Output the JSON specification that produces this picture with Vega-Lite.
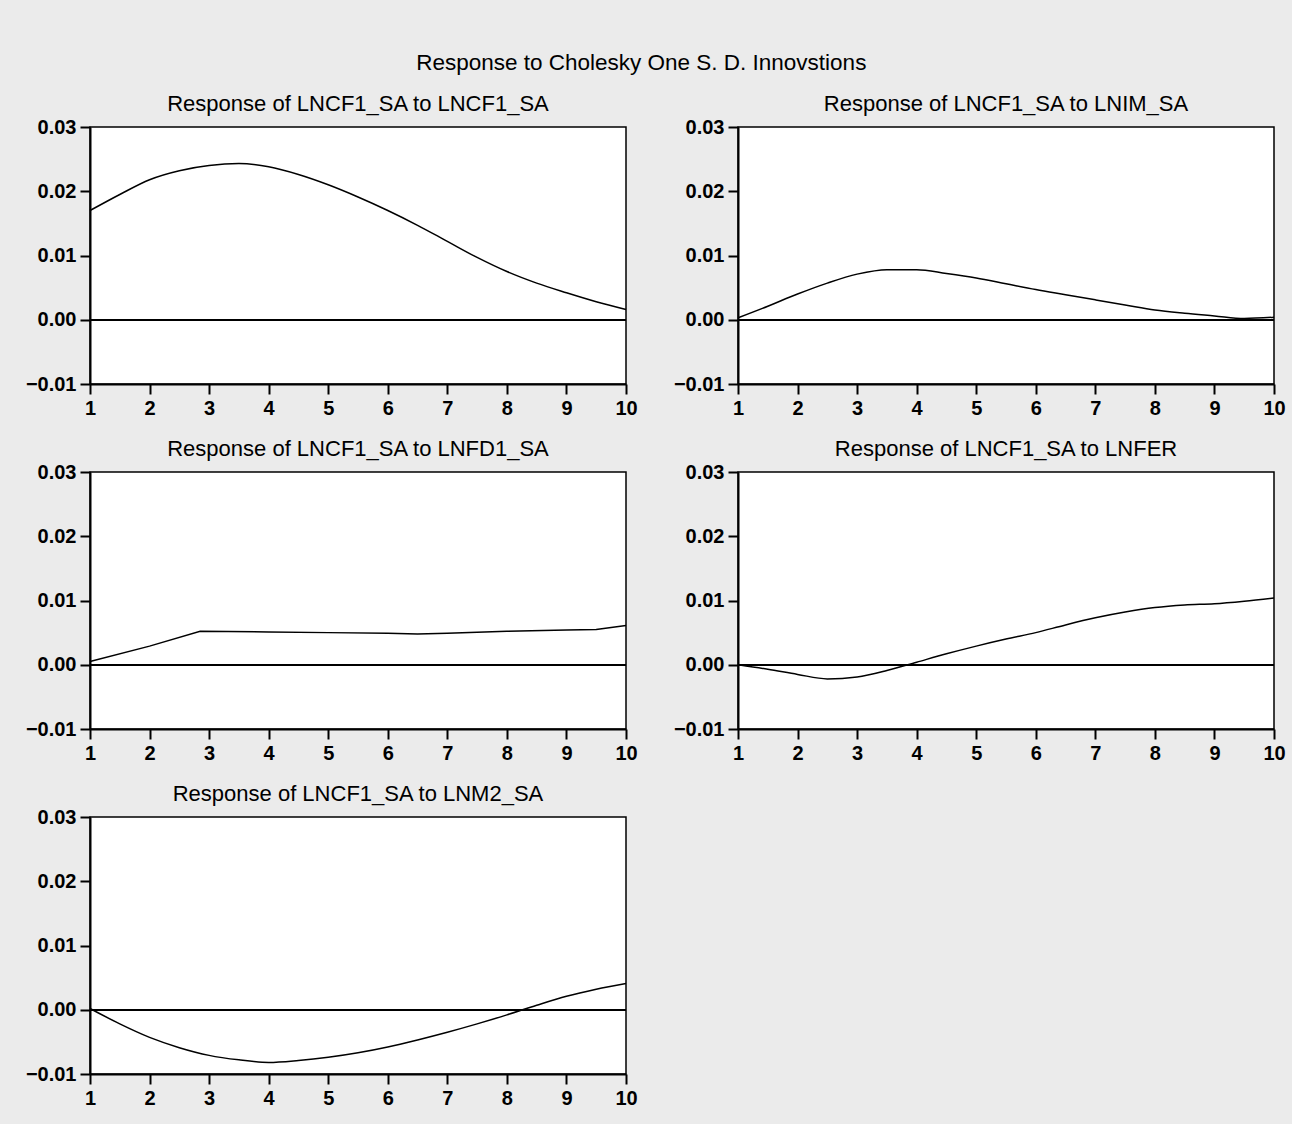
{
  "$schema": "https://vega.github.io/schema/vega-lite/v6.json",
  "background": "#ebebeb",
  "padding": {"left": 24, "top": 51, "right": 10, "bottom": 18},
  "title": {"text": "Response to Cholesky One S. D. Innovstions", "fontSize": 22.5, "font": "Liberation Sans", "fontWeight": "normal", "color": "black", "anchor": "middle", "offset": 18, "dx": -14, "dy": 0},
  "data": {"values": [
    {"panel": "A", "period": 1, "value": 0.0170},
    {"panel": "A", "period": 1.5, "value": 0.0195},
    {"panel": "A", "period": 2, "value": 0.0218},
    {"panel": "A", "period": 2.5, "value": 0.0232},
    {"panel": "A", "period": 3, "value": 0.0240},
    {"panel": "A", "period": 3.5, "value": 0.0243},
    {"panel": "A", "period": 4, "value": 0.0238},
    {"panel": "A", "period": 4.5, "value": 0.0226},
    {"panel": "A", "period": 5, "value": 0.0210},
    {"panel": "A", "period": 5.5, "value": 0.0191},
    {"panel": "A", "period": 6, "value": 0.0170},
    {"panel": "A", "period": 6.5, "value": 0.0147},
    {"panel": "A", "period": 7, "value": 0.0122},
    {"panel": "A", "period": 7.5, "value": 0.0097},
    {"panel": "A", "period": 8, "value": 0.0075},
    {"panel": "A", "period": 8.5, "value": 0.0057},
    {"panel": "A", "period": 9, "value": 0.0042},
    {"panel": "A", "period": 9.5, "value": 0.0028},
    {"panel": "A", "period": 10, "value": 0.0016},
    {"panel": "B", "period": 1, "value": 0.0003},
    {"panel": "B", "period": 1.5, "value": 0.0021},
    {"panel": "B", "period": 2, "value": 0.0040},
    {"panel": "B", "period": 2.5, "value": 0.0057},
    {"panel": "B", "period": 3, "value": 0.0071},
    {"panel": "B", "period": 3.5, "value": 0.0078},
    {"panel": "B", "period": 4, "value": 0.0078},
    {"panel": "B", "period": 4.5, "value": 0.0072},
    {"panel": "B", "period": 5, "value": 0.0065},
    {"panel": "B", "period": 5.5, "value": 0.0056},
    {"panel": "B", "period": 6, "value": 0.0047},
    {"panel": "B", "period": 6.5, "value": 0.0039},
    {"panel": "B", "period": 7, "value": 0.0031},
    {"panel": "B", "period": 7.5, "value": 0.0023},
    {"panel": "B", "period": 8, "value": 0.0015},
    {"panel": "B", "period": 8.5, "value": 0.0010},
    {"panel": "B", "period": 9, "value": 0.0006},
    {"panel": "B", "period": 9.5, "value": 0.0002},
    {"panel": "B", "period": 10, "value": 0.0004},
    {"panel": "C", "period": 1, "value": 0.0005},
    {"panel": "C", "period": 2, "value": 0.0029},
    {"panel": "C", "period": 2.85, "value": 0.0052},
    {"panel": "C", "period": 4, "value": 0.0051},
    {"panel": "C", "period": 5, "value": 0.0050},
    {"panel": "C", "period": 6, "value": 0.0049},
    {"panel": "C", "period": 6.5, "value": 0.0048},
    {"panel": "C", "period": 7, "value": 0.0049},
    {"panel": "C", "period": 8, "value": 0.0052},
    {"panel": "C", "period": 9, "value": 0.0054},
    {"panel": "C", "period": 9.5, "value": 0.0055},
    {"panel": "C", "period": 10, "value": 0.0061},
    {"panel": "D", "period": 1, "value": 0.0000},
    {"panel": "D", "period": 1.5, "value": -0.0007},
    {"panel": "D", "period": 2, "value": -0.0015},
    {"panel": "D", "period": 2.5, "value": -0.0022},
    {"panel": "D", "period": 3, "value": -0.0019},
    {"panel": "D", "period": 3.5, "value": -0.0009},
    {"panel": "D", "period": 4, "value": 0.0004},
    {"panel": "D", "period": 4.5, "value": 0.0017},
    {"panel": "D", "period": 5, "value": 0.0029},
    {"panel": "D", "period": 5.5, "value": 0.0040},
    {"panel": "D", "period": 6, "value": 0.0050},
    {"panel": "D", "period": 6.5, "value": 0.0062},
    {"panel": "D", "period": 7, "value": 0.0073},
    {"panel": "D", "period": 7.5, "value": 0.0082},
    {"panel": "D", "period": 8, "value": 0.0089},
    {"panel": "D", "period": 8.5, "value": 0.0093},
    {"panel": "D", "period": 9, "value": 0.0095},
    {"panel": "D", "period": 9.5, "value": 0.0099},
    {"panel": "D", "period": 10, "value": 0.0104},
    {"panel": "E", "period": 1, "value": 0.0002},
    {"panel": "E", "period": 1.5, "value": -0.0022},
    {"panel": "E", "period": 2, "value": -0.0043},
    {"panel": "E", "period": 2.5, "value": -0.0059},
    {"panel": "E", "period": 3, "value": -0.0071},
    {"panel": "E", "period": 3.5, "value": -0.0078},
    {"panel": "E", "period": 4, "value": -0.0082},
    {"panel": "E", "period": 4.5, "value": -0.0079},
    {"panel": "E", "period": 5, "value": -0.0074},
    {"panel": "E", "period": 5.5, "value": -0.0067},
    {"panel": "E", "period": 6, "value": -0.0058},
    {"panel": "E", "period": 6.5, "value": -0.0047},
    {"panel": "E", "period": 7, "value": -0.0035},
    {"panel": "E", "period": 7.5, "value": -0.0022},
    {"panel": "E", "period": 8, "value": -0.0008},
    {"panel": "E", "period": 8.5, "value": 0.0007},
    {"panel": "E", "period": 9, "value": 0.0021},
    {"panel": "E", "period": 9.5, "value": 0.0032},
    {"panel": "E", "period": 10, "value": 0.0041}
  ]},
  "columns": 2,
  "spacing": {"column": 34, "row": 18},
  "concat": [
    {
      "title": "Response of LNCF1_SA to LNCF1_SA",
      "width": 536, "height": 257,
      "transform": [{"filter": "datum.panel === 'A'"}],
      "encoding": {
        "x": {"field": "period", "type": "quantitative", "scale": {"domain": [1, 10], "nice": false, "zero": false}, "axis": {"values": [1,2,3,4,5,6,7,8,9,10]}},
        "y": {"field": "value", "type": "quantitative", "scale": {"domain": [-0.01, 0.03], "nice": false}, "axis": {"values": [-0.01, 0, 0.01, 0.02, 0.03], "format": ".2f"}}
      },
      "layer": [
        {"mark": {"type": "line", "color": "black", "strokeWidth": 1.5, "interpolate": "monotone"}},
        {"mark": {"type": "rule", "color": "black", "strokeWidth": 1.5}, "encoding": {"x": null, "y": {"datum": 0}}}
      ]
    },
    {
      "title": "Response of LNCF1_SA to LNIM_SA",
      "width": 536, "height": 257,
      "transform": [{"filter": "datum.panel === 'B'"}],
      "encoding": {
        "x": {"field": "period", "type": "quantitative", "scale": {"domain": [1, 10], "nice": false, "zero": false}, "axis": {"values": [1,2,3,4,5,6,7,8,9,10]}},
        "y": {"field": "value", "type": "quantitative", "scale": {"domain": [-0.01, 0.03], "nice": false}, "axis": {"values": [-0.01, 0, 0.01, 0.02, 0.03], "format": ".2f"}}
      },
      "layer": [
        {"mark": {"type": "line", "color": "black", "strokeWidth": 1.5, "interpolate": "monotone"}},
        {"mark": {"type": "rule", "color": "black", "strokeWidth": 1.5}, "encoding": {"x": null, "y": {"datum": 0}}}
      ]
    },
    {
      "title": "Response of LNCF1_SA to LNFD1_SA",
      "width": 536, "height": 257,
      "transform": [{"filter": "datum.panel === 'C'"}],
      "encoding": {
        "x": {"field": "period", "type": "quantitative", "scale": {"domain": [1, 10], "nice": false, "zero": false}, "axis": {"values": [1,2,3,4,5,6,7,8,9,10]}},
        "y": {"field": "value", "type": "quantitative", "scale": {"domain": [-0.01, 0.03], "nice": false}, "axis": {"values": [-0.01, 0, 0.01, 0.02, 0.03], "format": ".2f"}}
      },
      "layer": [
        {"mark": {"type": "line", "color": "black", "strokeWidth": 1.5, "interpolate": "linear"}},
        {"mark": {"type": "rule", "color": "black", "strokeWidth": 1.5}, "encoding": {"x": null, "y": {"datum": 0}}}
      ]
    },
    {
      "title": "Response of LNCF1_SA to LNFER",
      "width": 536, "height": 257,
      "transform": [{"filter": "datum.panel === 'D'"}],
      "encoding": {
        "x": {"field": "period", "type": "quantitative", "scale": {"domain": [1, 10], "nice": false, "zero": false}, "axis": {"values": [1,2,3,4,5,6,7,8,9,10]}},
        "y": {"field": "value", "type": "quantitative", "scale": {"domain": [-0.01, 0.03], "nice": false}, "axis": {"values": [-0.01, 0, 0.01, 0.02, 0.03], "format": ".2f"}}
      },
      "layer": [
        {"mark": {"type": "line", "color": "black", "strokeWidth": 1.5, "interpolate": "monotone"}},
        {"mark": {"type": "rule", "color": "black", "strokeWidth": 1.5}, "encoding": {"x": null, "y": {"datum": 0}}}
      ]
    },
    {
      "title": "Response of LNCF1_SA to LNM2_SA",
      "width": 536, "height": 257,
      "transform": [{"filter": "datum.panel === 'E'"}],
      "encoding": {
        "x": {"field": "period", "type": "quantitative", "scale": {"domain": [1, 10], "nice": false, "zero": false}, "axis": {"values": [1,2,3,4,5,6,7,8,9,10]}},
        "y": {"field": "value", "type": "quantitative", "scale": {"domain": [-0.01, 0.03], "nice": false}, "axis": {"values": [-0.01, 0, 0.01, 0.02, 0.03], "format": ".2f"}}
      },
      "layer": [
        {"mark": {"type": "line", "color": "black", "strokeWidth": 1.5, "interpolate": "monotone"}},
        {"mark": {"type": "rule", "color": "black", "strokeWidth": 1.5}, "encoding": {"x": null, "y": {"datum": 0}}}
      ]
    }
  ],
  "config": {
    "view": {"stroke": "black", "strokeWidth": 1.5, "fill": "white"},
    "axis": {
      "title": null,
      "grid": false,
      "domainColor": "black",
      "domainWidth": 2,
      "tickColor": "black",
      "tickWidth": 2,
      "tickSize": 10,
      "labelColor": "black",
      "labelFont": "Liberation Sans",
      "labelFontSize": 20,
      "labelFontWeight": "bold",
      "labelPadding": 4,
      "labelFlush": false,
      "labelOverlap": false
    },
    "title": {"font": "Liberation Sans", "fontSize": 22, "fontWeight": "normal", "color": "black", "offset": 1}
  }
}
